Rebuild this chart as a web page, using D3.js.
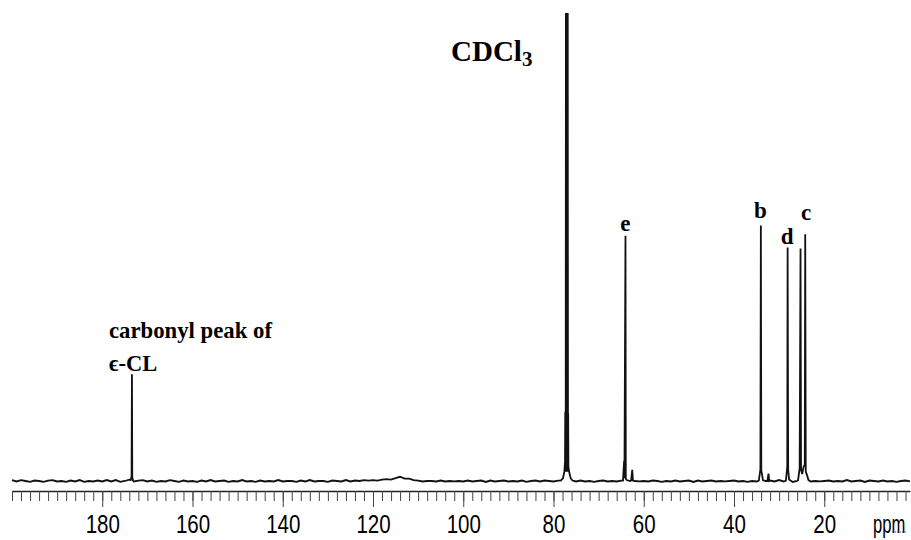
<!DOCTYPE html>
<html>
<head>
<meta charset="utf-8">
<script src="https://cdn.jsdelivr.net/npm/d3@7"></script>
<style>
    body { margin: 0; background: #fff; }
    svg { display: block; }
</style>
</head>
<body>
<svg id="spectrum" width="911" height="540"></svg>
<script>
// chemical shift axis (ppm runs right to left)
const ppmDomain = [200, 1];
const majorTicks = [180, 160, 140, 120, 100, 80, 60, 40, 20];

// baseline noise, one value per ppm from 200 down to 1
const noiseStart = 200;
const noise = [
    0.2, -0.1, 0.2, 0.0, -0.2, 0.1, 0.0, -0.2, 0.1, 0.2, -0.1, 0.0, -0.2, 0.1, -0.1, 0.2, -0.2, 0.0, -0.1, 0.1,
    -0.1, 0.2, -0.1, 0.2, -0.2, 0.0, 0.3, -0.1, 0.1, 0.2, -0.1, 0.1, -0.2, 0.0, -0.1, 0.2, 0.0, -0.2, 0.1, -0.1,
    0.0, -0.2, 0.1, -0.1, 0.2, -0.1, 0.0, 0.1, -0.2, 0.0, -0.1, 0.2, -0.1, 0.0, -0.2, 0.1, -0.1, 0.0, -0.1, 0.2,
    -0.1, 0.0, 0.0, -0.2, 0.1, -0.1, 0.2, -0.1, 0.0, 0.0, -0.2, 0.1, 0.0, -0.1, 0.2, -0.1, 0.1, 0.0, 0.2, 0.1,
    0.2, 0.1, 0.3, 0.4, 0.3, 0.6, 0.9, 0.5, 0.5, 0.2, 0.1, -0.1, 0.0, 0.0, -0.1, 0.1, -0.1, 0.0, -0.1, 0.0,
    -0.1, 0.1, -0.1, 0.0, 0.1, -0.2, 0.1, -0.1, 0.0, 0.1, -0.1, 0.0, -0.1, 0.1, -0.2, 0.0, 0.1, -0.1, 0.1, 0.0,
    -0.1, 0.1, 0.0, 0.2, 0.3, -0.1, 0.1, -0.1, 0.0, -0.2, 0.0, 0.1, -0.1, 0.0, -0.1, 0.1, -0.2, 0.0, 0.0, -0.1,
    0.0, -0.1, 0.1, 0.0, -0.2, 0.0, -0.1, 0.1, -0.1, 0.0, 0.1, -0.2, 0.1, -0.1, 0.0, 0.1, -0.1, 0.0, -0.1, 0.0,
    0.1, -0.1, 0.0, -0.2, 0.0, -0.1, 0.1, 0.0, 0.1, -0.1, 0.2, -0.1, 0.1, -0.2, 0.0, 0.0, 0.1, -0.1, 0.0, -0.1,
    0.0, 0.1, -0.1, 0.0, -0.1, 0.2, -0.1, 0.0, 0.1, -0.2, 0.1, 0.0, -0.1, 0.1, -0.1, 0.0, -0.2, 0.0, 0.1, -0.1
];

// peaks as [ppm, intensity] vertices, intensity relative to CDCl3 = 100
const carbonylPeak = [[173.7, 0.2], [173.5, 1.0], [173.42, 22.8], [173.35, 0.8], [173.2, 0.1]];
const solventPeak = [
    [78.4, 0.1], [77.9, 0.6], [77.6, 2.0], [77.45, 4.0], [77.4, 14.5], [77.35, 14.8], [77.3, 3.0],
    [77.25, 100], [77.2, 2.0], [77.15, 100], [77.1, 2.0], [77.05, 100], [77.0, 2.0], [76.95, 100],
    [76.9, 2.0], [76.85, 100], [76.8, 14.0], [76.75, 14.5], [76.7, 3.0], [76.5, 1.8], [76.2, 0.6], [75.8, 0.1]
];
const peakE = [[64.6, 0.1], [64.35, 4.3], [64.28, 0.6], [64.05, 52.4], [63.98, 0.5], [63.8, 0.2]];
const peakSmall = [[62.8, 0.1], [62.55, 2.4], [62.4, 0.1]];
const peakB = [[34.5, 0.1], [34.15, 2.5], [34.05, 54.6], [33.95, 2.2], [33.75, 1.2], [33.6, 0.2]];
const peakSmallB = [[32.6, 0.0], [32.35, 1.6], [32.2, 0.0]];
const peakD = [[28.5, 0.1], [28.2, 3.0], [28.12, 49.9], [28.0, 2.5], [27.8, 0.3]];
const peakC = [
    [25.8, 0.2], [25.45, 2.8], [25.26, 49.7], [25.15, 2.5], [24.9, 1.5], [24.6, 3.0],
    [24.32, 3.5], [24.22, 52.7], [24.1, 2.0], [23.8, 1.2], [23.5, 0.2]
];
const peakGroups = [carbonylPeak, solventPeak, peakE, peakSmall, peakB, peakSmallB, peakD, peakC];

// peak letters: text, ppm, label baseline intensity
const letterText = ["e", "b", "d", "c"];
const letterPpm = [64.05, 34.15, 28.2, 24.0];
const letterLevel = [53.5, 56.3, 50.7, 55.7];

/***
 * Canvas setup
 */
const svg = d3.select("#spectrum");

const x = d3.scaleLinear().domain(ppmDomain).range([12, 910]);
const y = d3.scaleLinear().domain([0, 100]).range([481, 13]);

/***
 * Data processing: noise points outside of peaks, then peak vertices
 */
const points = [];
noise.forEach((v, i) => {
    const ppm = noiseStart - i;
    const inside = peakGroups.some(g => ppm <= g[0][0] && ppm >= g[g.length - 1][0]);
    if (!inside) points.push([ppm, v]);
});
peakGroups.forEach(g => g.forEach(p => points.push(p)));
points.sort((a, b) => b[0] - a[0]);

const line = d3.line()
    .x(d => x(d[0]))
    .y(d => y(d[1]));

svg.append("path")
    .datum(points)
    .attr("d", line)
    .attr("fill", "none")
    .attr("stroke", "#111")
    .attr("stroke-width", 1.8)
    .attr("stroke-linejoin", "miter");

/***
 * Axis
 */
const axisY = 491;
const minorTicks = d3.range(2, 201, 2);

const minorAxis = svg.append("g")
    .attr("transform", "translate(0," + axisY + ")")
    .call(d3.axisBottom(x).tickValues(minorTicks).tickSize(10).tickSizeOuter(0).tickFormat(""));

const majorAxis = svg.append("g")
    .attr("transform", "translate(0," + axisY + ")")
    .call(d3.axisBottom(x).tickValues(majorTicks).tickSize(16).tickSizeOuter(0));

minorAxis.select(".domain").attr("stroke", "#222").attr("stroke-width", 1.6);
majorAxis.select(".domain").remove();
svg.selectAll(".tick line").attr("stroke", "#444").attr("stroke-width", 1);

majorAxis.selectAll(".tick text")
    .attr("y", 0)
    .attr("dy", 0)
    .attr("transform", "translate(0,42) scale(0.79,1)")
    .attr("fill", "#000")
    .style("font-family", "'Liberation Sans', Arial, sans-serif")
    .style("font-size", "26px");

svg.append("text")
    .attr("transform", "translate(873,533) scale(0.64,1)")
    .style("font-family", "'Liberation Sans', Arial, sans-serif")
    .style("font-size", "26px")
    .text("ppm");

svg.append("line")
    .attr("x1", 892).attr("x2", 906)
    .attr("y1", 532).attr("y2", 532)
    .attr("stroke", "#3050d0")
    .attr("stroke-width", 1)
    .attr("stroke-dasharray", "1.5,1");

/***
 * Annotations
 */
const serifBold = "'Liberation Serif', 'Times New Roman', serif";

svg.selectAll("text.letter")
    .data(letterText)
    .join("text")
    .attr("class", "letter")
    .attr("x", (d, i) => x(letterPpm[i]))
    .attr("y", (d, i) => y(letterLevel[i]))
    .attr("text-anchor", "middle")
    .style("font-family", serifBold)
    .style("font-weight", "bold")
    .style("font-size", "23px")
    .text(d => d);

const solvent = svg.append("text")
    .attr("x", 451)
    .attr("y", 61)
    .style("font-family", serifBold)
    .style("font-weight", "bold")
    .style("font-size", "29px");
solvent.append("tspan").text("CDCl");
solvent.append("tspan").attr("dy", 5).style("font-size", "21px").text("3");

svg.append("text")
    .attr("x", 109)
    .attr("y", 338)
    .attr("textLength", 163)
    .attr("lengthAdjust", "spacingAndGlyphs")
    .style("font-family", serifBold)
    .style("font-weight", "bold")
    .style("font-size", "22.5px")
    .text("carbonyl peak of");

svg.append("text")
    .attr("x", 109)
    .attr("y", 371)
    .style("font-family", serifBold)
    .style("font-weight", "bold")
    .style("font-size", "22.5px")
    .text("\u03f5-CL");
</script>
</body>
</html>
